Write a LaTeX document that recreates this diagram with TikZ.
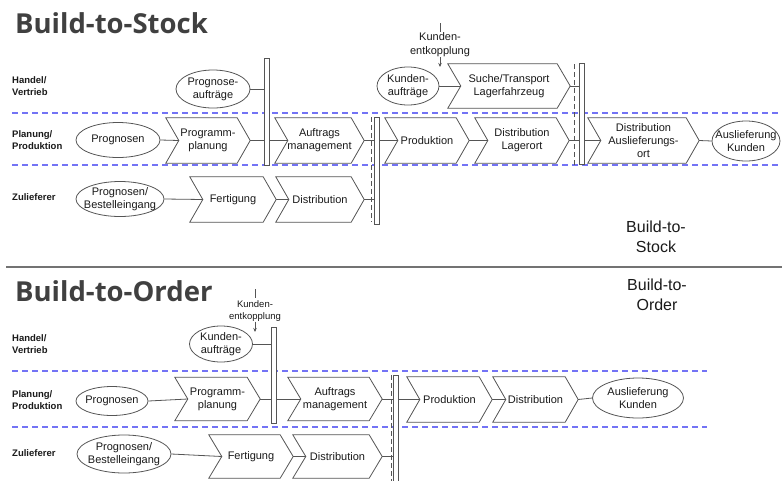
\documentclass[tikz,border=0pt]{standalone}
\usepackage{fontspec}
\setmainfont{Liberation Sans}
\newfontfamily\titlefont{Open Sans}
\usetikzlibrary{shapes.geometric,arrows.meta,calc}

\definecolor{shapecol}{HTML}{555555}
\definecolor{lanecol}{RGB}{115,115,245}
\definecolor{ink}{HTML}{1A1A1A}
\definecolor{titlegray}{HTML}{404040}

\tikzset{
  chevtext/.style={rectangle, inner sep=0pt, align=center, text=ink, font=\fontsize{11}{13}\selectfont},
  chev/.style={draw=shapecol, line width=0.8pt, line join=miter},
  ell/.style={ellipse, draw=shapecol, line width=0.8pt, inner sep=0pt},
  txt/.style={inner sep=0pt, align=center, text=ink, font=\fontsize{11}{13}\selectfont},
  conn/.style={draw=shapecol, line width=0.8pt},
  barbox/.style={rectangle, draw=shapecol, fill=white, line width=0.8pt, minimum width=5pt, inner sep=0pt},
  lanesep/.style={draw=lanecol, line width=1.1pt, dash pattern=on 6pt off 4pt},
  vdash/.style={draw=shapecol, line width=0.8pt, dash pattern=on 5pt off 3pt},
  lanelabel/.style={inner sep=0pt, anchor=west, align=left, text=ink, font=\fontsize{9.5}{12}\selectfont\bfseries},
  bigtitle/.style={inner sep=0pt, anchor=base west, text=titlegray, font=\titlefont\bfseries\fontsize{27.5}{30}\selectfont},
  sidetext/.style={inner sep=0pt, align=center, text=ink, font=\fontsize{16}{20}\selectfont},
  ktext/.style={inner sep=0pt, align=center, text=ink},
  ekarrow/.style={conn, -{Stealth[length=4pt,width=3.5pt]}}
}

\newcommand\chevnode[6]{%
  \node[chevtext, minimum width=#4, minimum height=#5] (#1) at (#2,#3) {#6};
  \draw[chev] (#1.north west) -- ($(#1.north east)+(-13,0)$) -- (#1.east)
     -- ($(#1.south east)+(-13,0)$) -- (#1.south west) -- ($(#1.west)+(13,0)$) -- cycle;
  \coordinate (#1-in) at ($(#1.west)+(13,0)$);
}
\newcommand\ellnode[6]{%
  \node[ell, minimum width=#4, minimum height=#5] (#1) at (#2,#3) {};
  \node[txt] (#1-t) at (#1) {#6};
}

\begin{document}
\begin{tikzpicture}[x=1pt, y=-1pt]
\useasboundingbox[fill=white] (0,0) rectangle (782,480);

% ================= Build-to-Stock =================
\node[bigtitle] (t1) at (15,33) {Build-to-Stock};
\node[sidetext] (s1) at (656,237) {Build-to-\\Stock};

\node[lanelabel] (l1a) at (12,86) {Handel/\\Vertrieb};
\node[lanelabel] (l1b) at (12,140) {Planung/\\Produktion};
\node[lanelabel] (l1c) at (12,197) {Zulieferer};

\coordinate (d1a) at (12,113); \coordinate (d1b) at (782,113);
\coordinate (d1c) at (12,165); \coordinate (d1d) at (782,165);
\draw[lanesep] (d1a) -- (d1b);
\draw[lanesep] (d1c) -- (d1d);

% customer decoupling marker
\node[ktext, font=\fontsize{11}{14}\selectfont] (ek1) at (440,45) {Kunden-\\entkopplung};
\coordinate (ek1a) at (440,23); \coordinate (ek1b) at (440,32); \coordinate (ek1c) at (440,67);
\draw[conn] (ek1a) -- (ek1b);
\draw[ekarrow] (ek1.south) -- (ek1c);

% dashed vertical lines
\coordinate (v1a) at (371,117); \coordinate (v1b) at (371,222);
\coordinate (v2a) at (574,64);  \coordinate (v2b) at (574,165);
\draw[vdash] (v1a) -- (v1b);
\draw[vdash] (v2a) -- (v2b);

% nodes
\ellnode{progauf}{213}{89}{74pt}{38pt}{Prognose-\\aufträge}
\ellnode{prognosen}{118}{140}{84pt}{35pt}{Prognosen}
\chevnode{progplan}{208}{140.5}{84pt}{45pt}{Programm-\\planung}
\chevnode{auftrag}{319.5}{140.5}{89pt}{45pt}{Auftrags\\management}
\ellnode{kundenauf}{408}{86}{62pt}{38pt}{Kunden-\\aufträge}
\chevnode{suche}{509}{86}{122pt}{44pt}{Suche/Transport\\Lagerfahrzeug}
\chevnode{produktion}{427}{140.5}{84pt}{45pt}{Produktion}
\chevnode{distlager}{522}{140.5}{94pt}{45pt}{Distribution\\Lagerort}
\chevnode{distaus}{643.5}{140.5}{111pt}{45pt}{Distribution\\Auslieferungs-\\ort}
\ellnode{auslief}{746}{141}{68pt}{40pt}{Auslieferung\\Kunden}
\ellnode{progbest}{120}{199}{88pt}{35pt}{Prognosen/\\Bestelleingang}
\chevnode{fert}{233}{199.5}{86pt}{45pt}{Fertigung}
\chevnode{dist}{320}{199.5}{88pt}{45pt}{Distribution}

% connectors
\draw[conn] (progauf.east) -- (progauf.east -| 266.5,0);
\draw[conn] (prognosen.east) -- (progplan-in);
\draw[conn] (progplan.east) -- (auftrag-in);
\draw[conn] (auftrag.east) -- (produktion-in);
\draw[conn] (produktion.east) -- (distlager-in);
\draw[conn] (distlager.east) -- (distaus-in);
\draw[conn] (distaus.east) -- (auslief.west);
\draw[conn] (kundenauf.east) -- (suche-in);
\draw[conn] (suche.east) -- (suche.east -| 581.5,0);
\draw[conn] (progbest.east) -- (fert-in);
\draw[conn] (fert.east) -- (dist-in);
\draw[conn] (dist.east) -- (dist.east -| 376.5,0);

% bars
\node[barbox, minimum height=107pt] (bar1) at (266.5,111.5) {};
\node[barbox, minimum height=107pt] (bar2) at (376.5,170.5) {};
\node[barbox, minimum height=101pt] (bar3) at (581.5,113.5) {};

% separator
\coordinate (sepa) at (6,267); \coordinate (sepb) at (782,267);
\draw[draw=black!55, line width=1.2pt] (sepa) -- (sepb);

% ================= Build-to-Order =================
\node[bigtitle] (t2) at (15,301) {Build-to-Order};
\node[sidetext] (s2) at (657,295) {Build-to-\\Order};

\node[lanelabel] (l2a) at (12,344) {Handel/\\Vertrieb};
\node[lanelabel] (l2b) at (12,400) {Planung/\\Produktion};
\node[lanelabel] (l2c) at (12,453) {Zulieferer};

\coordinate (d2a) at (12,371); \coordinate (d2b) at (707,371);
\coordinate (d2c) at (12,427); \coordinate (d2d) at (707,427);
\draw[lanesep] (d2a) -- (d2b);
\draw[lanesep] (d2c) -- (d2d);

\node[ktext, font=\fontsize{9.5}{12}\selectfont] (ek2) at (255,311) {Kunden-\\entkopplung};
\coordinate (ek2a) at (255,289); \coordinate (ek2b) at (255,298); \coordinate (ek2c) at (255,332);
\draw[conn] (ek2a) -- (ek2b);
\draw[ekarrow] (ek2.south) -- (ek2c);

\coordinate (v3a) at (391,375); \coordinate (v3b) at (391,482);
\draw[vdash] (v3a) -- (v3b);

\ellnode{kundenauf2}{221}{344}{63pt}{36pt}{Kunden-\\aufträge}
\ellnode{prognosen2}{112}{401}{72pt}{29pt}{Prognosen}
\chevnode{progplan2}{217.5}{399}{85pt}{43pt}{Programm-\\planung}
\chevnode{auftrag2}{335}{399}{94pt}{43pt}{Auftrags\\management}
\chevnode{produktion2}{449.5}{399.5}{85pt}{45pt}{Produktion}
\chevnode{distrib2}{535.5}{399.5}{85pt}{45pt}{Distribution}
\ellnode{auslief2}{638}{398}{91pt}{40pt}{Auslieferung\\Kunden}
\ellnode{progbest2}{124}{454}{94pt}{38pt}{Prognosen/\\Bestelleingang}
\chevnode{fert2}{251}{456.5}{84pt}{43pt}{Fertigung}
\chevnode{dist2}{337.5}{456.5}{89pt}{43pt}{Distribution}

\draw[conn] (kundenauf2.east) -- (kundenauf2.east -| 273.5,0);
\draw[conn] (prognosen2.east) -- (progplan2-in);
\draw[conn] (progplan2.east) -- (auftrag2-in);
\draw[conn] (auftrag2.east) -- (auftrag2.east -| produktion2-in);
\draw[conn] (produktion2.east) -- (distrib2-in);
\draw[conn] (distrib2.east) -- (auslief2.west);
\draw[conn] (progbest2.east) -- (fert2-in);
\draw[conn] (fert2.east) -- (dist2-in);
\draw[conn] (dist2.east) -- (dist2.east -| 396,0);

\node[barbox, minimum height=96pt] (bar4) at (273.5,375) {};
\node[barbox, minimum height=110pt, minimum width=4.5pt] (bar5) at (396,430) {};
\end{tikzpicture}
\end{document}
